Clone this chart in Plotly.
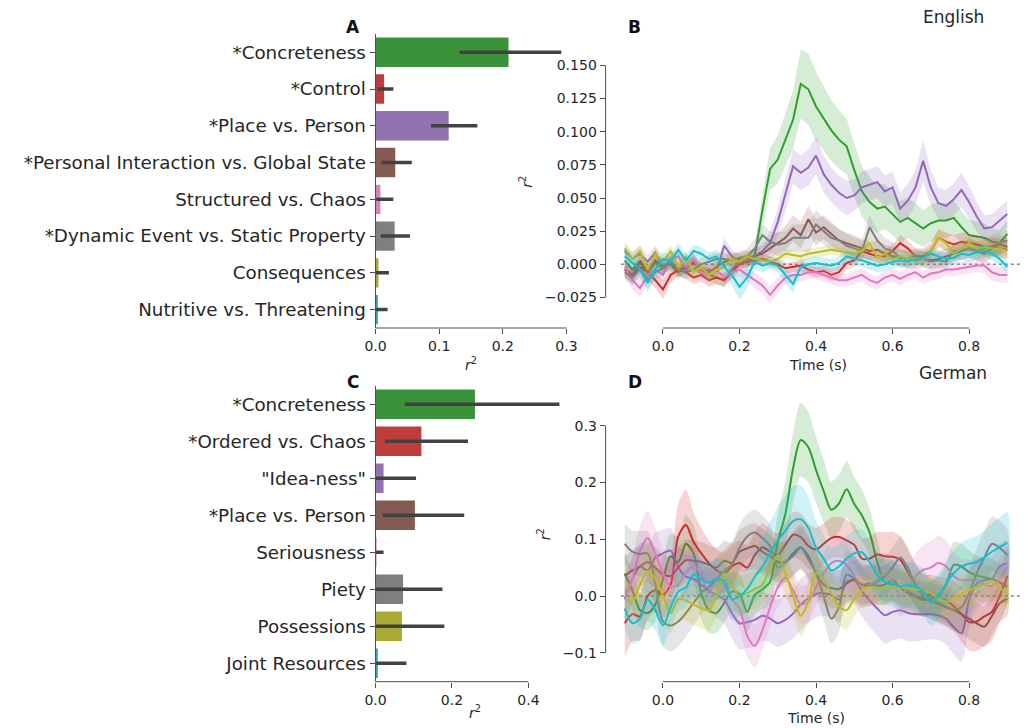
import numpy as np
import plotly.graph_objects as go

W, H = 1028, 728

# ---------------- Panel A (English) bar data ----------------
cats_A = ["*Concreteness", "*Control", "*Place vs. Person",
          "*Personal Interaction vs. Global State", "Structured vs. Chaos",
          "*Dynamic Event vs. Static Property", "Consequences",
          "Nutritive vs. Threatening"]
val_A = [0.209, 0.0135, 0.115, 0.031, 0.0077, 0.030, 0.0046, 0.0037]
lo_A = [0.132, 0.003, 0.087, 0.009, 0.001, 0.008, 0.000, 0.000]
hi_A = [0.292, 0.028, 0.160, 0.057, 0.028, 0.054, 0.021, 0.019]

# ---------------- Panel C (German) bar data ----------------
cats_C = ["*Concreteness", "*Ordered vs. Chaos", "\"Idea-ness\"",
          "*Place vs. Person", "Seriousness", "Piety", "Possessions",
          "Joint Resources"]
val_C = [0.260, 0.120, 0.021, 0.103, 0.001, 0.072, 0.069, 0.006]
lo_C = [0.0765, 0.025, 0.000, 0.019, 0.000, 0.000, 0.000, 0.000]
hi_C = [0.481, 0.242, 0.106, 0.232, 0.021, 0.175, 0.180, 0.081]

bar_colors = ["#3a923a", "#c03d3e", "#9372b2", "#845b53", "#d684bd",
              "#7f7f7f", "#a9aa35", "#2eabb8"]
line_colors = ["#2ca02c", "#d62728", "#9467bd", "#8c564b", "#e377c2",
               "#7f7f7f", "#bcbd22", "#17becf"]

# ---------------- time axis ----------------
time_s = [round(-0.10 + 0.02 * i, 2) for i in range(51)]

# ---------------- Panel B (English) time courses ----------------
green_B = [0.003, -0.004, 0.002, -0.006, 0.001, -0.003, 0.000, -0.006, -0.002, 0.003, -0.005, -0.008, -0.010, -0.012, -0.004, 0.002, 0.002,
           0.007, 0.041, 0.072, 0.079, 0.094, 0.109, 0.136, 0.132, 0.119, 0.110, 0.101, 0.094, 0.089, 0.071, 0.055, 0.047, 0.042, 0.0435, 0.038, 0.032, 0.035, 0.031, 0.027, 0.031, 0.033, 0.033, 0.035, 0.028, 0.022, 0.021, 0.020, 0.017, 0.016, 0.023]
red_B = [-0.004, -0.008, -0.002, -0.006, -0.012, -0.019, -0.008, -0.004, -0.006, -0.010, -0.008, -0.012, -0.010, -0.012, -0.006, 0.000, 0.002,
         0.003, 0.004, 0.002, 0.000, -0.003, -0.002, -0.001, -0.004, -0.006, -0.005, -0.008, -0.006, 0.001, 0.003, 0.010, 0.008, 0.006, 0.006, 0.010, 0.016, 0.012, 0.006, 0.006, 0.010, 0.020, 0.017, 0.015, 0.017, 0.016, 0.015, 0.013, 0.013, 0.012, 0.011]
purple_B = [0.010, 0.004, 0.008, 0.002, 0.009, -0.002, 0.003, 0.006, -0.004, 0.002, -0.006, -0.004, -0.005, 0.014, 0.006, 0.002, 0.003,
            0.006, 0.010, 0.016, 0.032, 0.052, 0.074, 0.069, 0.073, 0.082, 0.068, 0.060, 0.054, 0.050, 0.052, 0.058, 0.060, 0.062, 0.055, 0.058, 0.042, 0.048, 0.058, 0.078, 0.058, 0.046, 0.044, 0.049, 0.056, 0.047, 0.036, 0.027, 0.028, 0.033, 0.038]
brown_B = [-0.004, -0.008, 0.002, -0.006, 0.003, -0.002, 0.002, -0.004, -0.002, 0.001, -0.003, -0.006, -0.002, 0.002, 0.003, 0.004, 0.005,
           0.006, 0.008, 0.012, 0.016, 0.020, 0.027, 0.022, 0.034, 0.024, 0.028, 0.023, 0.018, 0.016, 0.014, 0.012, 0.010, 0.011, 0.008, 0.006, 0.005, 0.004, 0.006, 0.004, 0.003, 0.004, 0.006, 0.008, 0.010, 0.012, 0.010, 0.008, 0.012, 0.015, 0.013]
pink_B = [-0.002, -0.012, -0.018, -0.008, -0.004, -0.008, 0.004, 0.006, -0.002, 0.004, -0.006, -0.008, -0.004, -0.010, -0.006, -0.004, -0.008,
          -0.012, -0.016, -0.023, -0.016, -0.010, -0.008, -0.008, -0.006, -0.006, -0.008, -0.010, -0.012, -0.012, -0.010, -0.008, -0.012, -0.014, -0.010, -0.008, -0.011, -0.008, -0.006, -0.010, -0.007, -0.006, -0.004, -0.004, -0.003, -0.002, -0.001, -0.001, -0.006, -0.008, -0.008]
gray_B = [-0.006, -0.010, -0.004, -0.012, -0.006, -0.003, 0.002, -0.004, -0.006, -0.004, 0.000, 0.002, 0.004, 0.004, 0.003, 0.005, 0.006,
          0.012, 0.022, 0.017, 0.015, 0.016, 0.020, 0.020, 0.020, 0.030, 0.025, 0.020, 0.018, 0.014, 0.012, 0.010, 0.028, 0.018, 0.012, 0.010, 0.005, 0.004, 0.003, 0.004, 0.002, 0.003, 0.002, 0.010, 0.010, 0.012, 0.010, 0.012, 0.014, 0.016, 0.018]
olive_B = [0.012, 0.004, 0.010, -0.004, 0.008, 0.002, 0.010, -0.002, 0.006, -0.006, -0.002, -0.008, -0.004, -0.002, 0.004, 0.002, 0.006,
           0.004, 0.003, 0.002, 0.004, 0.008, 0.007, 0.006, 0.008, 0.009, 0.010, 0.011, 0.010, 0.009, 0.008, 0.010, 0.016, 0.005, 0.008, 0.004, 0.006, 0.004, 0.005, 0.004, 0.010, 0.020, 0.016, 0.008, 0.012, 0.016, 0.012, 0.013, 0.012, 0.012, 0.010]
cyan_B = [0.006, 0.001, -0.004, -0.014, -0.004, 0.004, 0.002, 0.011, 0.003, 0.010, 0.008, 0.004, 0.006, -0.002, -0.008, -0.017, -0.010,
          0.002, -0.001, 0.001, -0.001, -0.008, -0.015, -0.002, 0.000, 0.001, 0.000, -0.001, 0.001, 0.006, 0.004, 0.003, 0.001, -0.001, 0.000, 0.002, 0.003, 0.002, 0.004, 0.005, 0.008, 0.006, 0.004, 0.005, 0.008, 0.007, 0.009, 0.010, 0.008, 0.004, -0.002]

# CI half-widths, panel B
green_B_ci = [0.006, 0.005, 0.006, 0.005, 0.005, 0.004, 0.005, 0.005, 0.004, 0.005, 0.004, 0.005, 0.005, 0.005, 0.005, 0.004, 0.005,
              0.006, 0.012, 0.016, 0.018, 0.020, 0.022, 0.026, 0.027, 0.026, 0.024, 0.023, 0.022, 0.021, 0.020, 0.019, 0.019, 0.018, 0.017, 0.016, 0.016, 0.015, 0.015, 0.014, 0.014, 0.014, 0.013, 0.013, 0.012, 0.012, 0.011, 0.011, 0.010, 0.010, 0.010]
red_B_ci = [0.006, 0.006, 0.006, 0.006, 0.006, 0.007, 0.006, 0.005, 0.005, 0.005, 0.005, 0.005, 0.005, 0.005, 0.005, 0.005, 0.004,
            0.004, 0.004, 0.004, 0.004, 0.004, 0.004, 0.004, 0.004, 0.004, 0.004, 0.005, 0.005, 0.005, 0.005, 0.005, 0.005, 0.005, 0.005, 0.005, 0.006, 0.006, 0.006, 0.006, 0.006, 0.007, 0.007, 0.007, 0.007, 0.007, 0.007, 0.007, 0.007, 0.007, 0.007]
purple_B_ci = [0.005, 0.005, 0.006, 0.005, 0.005, 0.005, 0.004, 0.005, 0.005, 0.005, 0.004, 0.005, 0.005, 0.006, 0.005, 0.005, 0.005,
               0.005, 0.006, 0.008, 0.010, 0.012, 0.013, 0.013, 0.014, 0.014, 0.014, 0.013, 0.013, 0.013, 0.012, 0.012, 0.012, 0.012, 0.012, 0.012, 0.012, 0.013, 0.013, 0.016, 0.013, 0.012, 0.012, 0.012, 0.013, 0.012, 0.011, 0.010, 0.010, 0.010, 0.010]
brown_B_ci = [0.006, 0.006, 0.005, 0.006, 0.005, 0.005, 0.005, 0.005, 0.005, 0.005, 0.005, 0.005, 0.005, 0.005, 0.005, 0.005, 0.005,
              0.006, 0.006, 0.007, 0.008, 0.009, 0.010, 0.010, 0.010, 0.010, 0.009, 0.009, 0.008, 0.008, 0.008, 0.007, 0.007, 0.007, 0.007, 0.007, 0.006, 0.006, 0.006, 0.006, 0.006, 0.006, 0.006, 0.006, 0.006, 0.007, 0.007, 0.007, 0.007, 0.007, 0.007]
pink_B_ci = [0.006, 0.007, 0.007, 0.006, 0.006, 0.006, 0.005, 0.005, 0.005, 0.005, 0.005, 0.005, 0.005, 0.005, 0.005, 0.005, 0.005,
             0.006, 0.006, 0.007, 0.006, 0.005, 0.005, 0.005, 0.005, 0.005, 0.005, 0.005, 0.005, 0.005, 0.005, 0.005, 0.005, 0.005, 0.005, 0.005, 0.005, 0.005, 0.005, 0.005, 0.005, 0.005, 0.005, 0.005, 0.005, 0.005, 0.005, 0.006, 0.006, 0.006, 0.006]
gray_B_ci = [0.006, 0.006, 0.006, 0.006, 0.006, 0.005, 0.005, 0.005, 0.005, 0.005, 0.005, 0.005, 0.005, 0.005, 0.005, 0.005, 0.006,
             0.007, 0.008, 0.008, 0.009, 0.009, 0.010, 0.010, 0.011, 0.011, 0.010, 0.010, 0.009, 0.009, 0.008, 0.008, 0.009, 0.008, 0.008, 0.007, 0.007, 0.007, 0.006, 0.006, 0.006, 0.006, 0.006, 0.006, 0.007, 0.007, 0.007, 0.007, 0.008, 0.008, 0.008]
olive_B_ci = [0.005, 0.005, 0.005, 0.005, 0.005, 0.005, 0.005, 0.005, 0.005, 0.005, 0.005, 0.005, 0.005, 0.005, 0.004, 0.004, 0.004,
              0.004, 0.004, 0.004, 0.004, 0.004, 0.004, 0.004, 0.004, 0.004, 0.004, 0.004, 0.004, 0.004, 0.005, 0.005, 0.005, 0.005, 0.005, 0.005, 0.005, 0.005, 0.005, 0.005, 0.005, 0.006, 0.006, 0.006, 0.006, 0.006, 0.006, 0.006, 0.006, 0.006, 0.006]
cyan_B_ci = [0.006, 0.006, 0.006, 0.007, 0.006, 0.005, 0.005, 0.005, 0.005, 0.005, 0.005, 0.005, 0.005, 0.006, 0.008, 0.010, 0.008,
             0.006, 0.005, 0.005, 0.005, 0.006, 0.007, 0.005, 0.005, 0.005, 0.005, 0.005, 0.005, 0.005, 0.005, 0.005, 0.005, 0.005, 0.005, 0.005, 0.005, 0.005, 0.005, 0.005, 0.005, 0.005, 0.005, 0.005, 0.005, 0.005, 0.005, 0.005, 0.005, 0.005, 0.005]

# ---------------- Panel D (German) time courses ----------------
green_D = [0.040, 0.010, -0.025, -0.030, -0.015, 0.030, 0.070, 0.060, 0.092, 0.075, 0.005, -0.025, -0.030, -0.012, 0.008, 0.004, -0.028,
           0.002, 0.012, 0.025, 0.095, 0.145, 0.225, 0.275, 0.262, 0.222, 0.185, 0.152, 0.163, 0.188, 0.162, 0.142, 0.112, 0.060, 0.024, 0.020, 0.014, 0.008, 0.000, -0.007, -0.004, 0.002, 0.020, 0.055, 0.052, 0.042, 0.036, 0.033, 0.030, 0.024, 0.016]
red_D = [-0.048, -0.032, -0.036, 0.000, 0.010, 0.002, 0.020, 0.105, 0.125, 0.095, 0.075, 0.058, 0.045, 0.040, 0.052, 0.058, 0.050,
         0.072, 0.086, 0.078, 0.072, 0.090, 0.108, 0.104, 0.088, 0.082, 0.092, 0.102, 0.104, 0.098, 0.090, 0.066, 0.066, 0.073, 0.070, 0.069, 0.064, 0.042, 0.020, 0.002, 0.002, -0.004, -0.008, -0.018, -0.032, -0.046, -0.045, -0.036, -0.028, 0.000, 0.035]
purple_D = [-0.005, 0.030, 0.052, 0.045, 0.068, 0.075, 0.080, 0.050, 0.034, 0.030, 0.020, 0.010, 0.002, -0.006, -0.030, -0.048, -0.046,
            -0.042, -0.035, -0.040, -0.048, -0.042, -0.031, -0.015, -0.004, 0.004, 0.005, 0.002, -0.006, 0.025, 0.028, 0.008, -0.008, -0.022, -0.034, -0.028, -0.025, -0.030, -0.032, -0.032, -0.032, -0.034, -0.040, -0.055, -0.066, -0.008, 0.022, 0.028, 0.030, 0.052, 0.058]
brown_D = [0.035, 0.045, 0.052, 0.060, 0.050, 0.038, 0.035, 0.050, 0.063, 0.062, 0.060, 0.055, 0.050, 0.062, 0.058, 0.078, 0.084,
           0.088, 0.078, 0.070, 0.060, 0.060, 0.075, 0.086, 0.070, 0.040, 0.020, 0.014, 0.012, 0.022, 0.028, 0.020, 0.022, 0.018, 0.020, 0.028, 0.015, 0.005, 0.000, -0.004, -0.008, -0.014, -0.020, -0.025, -0.032, -0.040, -0.048, -0.054, -0.035, -0.013, -0.005]
pink_D = [-0.005, 0.030, 0.080, 0.102, 0.075, 0.040, 0.016, 0.020, 0.040, 0.055, 0.035, 0.005, 0.030, 0.018, -0.005, -0.022, -0.070,
          -0.088, -0.060, -0.020, 0.015, 0.032, 0.010, -0.015, -0.010, 0.016, 0.040, 0.058, 0.062, 0.055, 0.035, 0.015, 0.020, 0.030, 0.040, 0.025, 0.000, 0.015, 0.035, 0.046, 0.050, 0.058, 0.052, 0.035, 0.028, 0.028, 0.028, 0.020, 0.018, 0.030, 0.052]
gray_D = [0.092, 0.078, 0.074, 0.075, 0.020, -0.045, -0.052, -0.045, -0.030, -0.012, 0.006, 0.016, 0.030, 0.045, 0.055, 0.085, 0.105,
          0.112, 0.102, 0.088, 0.050, 0.060, 0.070, 0.085, 0.065, 0.040, 0.000, -0.040, -0.020, 0.038, 0.030, 0.020, 0.018, 0.025, 0.034, 0.050, 0.068, 0.050, 0.020, 0.004, -0.005, -0.012, -0.018, -0.024, -0.020, 0.005, 0.040, 0.068, 0.092, 0.085, 0.072]
olive_D = [-0.005, -0.010, 0.020, 0.044, 0.030, 0.000, -0.030, -0.005, -0.008, -0.015, -0.022, -0.025, 0.000, 0.040, 0.020, 0.000, 0.005,
           0.012, 0.020, 0.050, 0.072, 0.040, 0.000, -0.035, -0.010, 0.040, 0.030, 0.005, -0.018, -0.025, -0.005, 0.010, 0.016, 0.014, 0.014, 0.016, 0.014, 0.014, 0.011, 0.010, 0.005, -0.004, -0.010, -0.006, 0.004, 0.010, 0.016, 0.020, 0.024, 0.015, 0.005]
cyan_D = [-0.022, -0.048, -0.040, -0.006, -0.025, -0.052, -0.020, 0.008, 0.015, 0.038, 0.030, 0.024, 0.030, 0.026, -0.006, 0.000, 0.012,
          0.034, 0.052, 0.076, 0.098, 0.115, 0.132, 0.135, 0.120, 0.085, 0.066, 0.045, 0.052, 0.066, 0.075, 0.077, 0.060, 0.038, 0.025, 0.022, 0.016, 0.020, 0.016, 0.008, -0.012, 0.000, 0.022, 0.040, 0.052, 0.057, 0.060, 0.068, 0.078, 0.086, 0.094]

# CI half-widths, panel D
green_D_ci = [0.035, 0.035, 0.030, 0.030, 0.030, 0.035, 0.040, 0.045, 0.050, 0.050, 0.045, 0.040, 0.035, 0.035, 0.035, 0.035, 0.035,
              0.035, 0.035, 0.040, 0.050, 0.058, 0.062, 0.065, 0.062, 0.058, 0.055, 0.050, 0.050, 0.050, 0.048, 0.045, 0.042, 0.040, 0.035, 0.030, 0.030, 0.030, 0.030, 0.030, 0.030, 0.032, 0.035, 0.040, 0.040, 0.038, 0.035, 0.035, 0.035, 0.032, 0.030]
red_D_ci = [0.060, 0.048, 0.042, 0.040, 0.038, 0.040, 0.048, 0.058, 0.062, 0.052, 0.045, 0.040, 0.038, 0.036, 0.038, 0.040, 0.040,
            0.040, 0.042, 0.040, 0.038, 0.038, 0.040, 0.042, 0.040, 0.038, 0.036, 0.036, 0.036, 0.036, 0.036, 0.036, 0.038, 0.040, 0.042, 0.044, 0.042, 0.040, 0.038, 0.036, 0.036, 0.038, 0.040, 0.044, 0.048, 0.050, 0.052, 0.052, 0.050, 0.048, 0.046]
purple_D_ci = [0.040, 0.040, 0.042, 0.044, 0.044, 0.042, 0.040, 0.040, 0.040, 0.040, 0.040, 0.040, 0.040, 0.042, 0.044, 0.046, 0.046,
               0.046, 0.044, 0.042, 0.042, 0.042, 0.044, 0.046, 0.044, 0.042, 0.040, 0.040, 0.040, 0.040, 0.042, 0.044, 0.046, 0.048, 0.050, 0.050, 0.050, 0.050, 0.048, 0.046, 0.044, 0.044, 0.046, 0.048, 0.050, 0.048, 0.044, 0.040, 0.040, 0.040, 0.040]
brown_D_ci = [0.035, 0.035, 0.036, 0.036, 0.036, 0.035, 0.035, 0.036, 0.036, 0.036, 0.035, 0.035, 0.035, 0.035, 0.036, 0.038, 0.040,
              0.040, 0.040, 0.038, 0.036, 0.036, 0.038, 0.040, 0.038, 0.036, 0.034, 0.034, 0.034, 0.034, 0.034, 0.034, 0.034, 0.034, 0.034, 0.036, 0.036, 0.034, 0.032, 0.032, 0.032, 0.032, 0.032, 0.034, 0.034, 0.036, 0.036, 0.036, 0.034, 0.032, 0.030]
pink_D_ci = [0.040, 0.040, 0.045, 0.048, 0.045, 0.040, 0.038, 0.036, 0.036, 0.036, 0.036, 0.036, 0.036, 0.036, 0.036, 0.036, 0.038,
             0.038, 0.036, 0.034, 0.034, 0.034, 0.034, 0.034, 0.034, 0.034, 0.036, 0.038, 0.040, 0.040, 0.038, 0.036, 0.036, 0.036, 0.036, 0.036, 0.036, 0.038, 0.040, 0.044, 0.046, 0.048, 0.046, 0.042, 0.038, 0.036, 0.036, 0.036, 0.036, 0.036, 0.036]
gray_D_ci = [0.035, 0.038, 0.040, 0.040, 0.042, 0.045, 0.045, 0.044, 0.042, 0.040, 0.038, 0.038, 0.038, 0.038, 0.040, 0.040, 0.040,
             0.040, 0.040, 0.038, 0.036, 0.036, 0.036, 0.036, 0.038, 0.040, 0.042, 0.044, 0.044, 0.042, 0.040, 0.038, 0.036, 0.036, 0.036, 0.036, 0.036, 0.036, 0.036, 0.036, 0.036, 0.036, 0.036, 0.038, 0.040, 0.042, 0.044, 0.046, 0.048, 0.048, 0.046]
olive_D_ci = [0.035, 0.035, 0.036, 0.038, 0.038, 0.036, 0.036, 0.036, 0.036, 0.036, 0.036, 0.036, 0.036, 0.038, 0.038, 0.036, 0.034,
              0.034, 0.034, 0.036, 0.038, 0.038, 0.036, 0.036, 0.036, 0.036, 0.036, 0.034, 0.034, 0.034, 0.032, 0.030, 0.030, 0.030, 0.030, 0.030, 0.030, 0.030, 0.030, 0.030, 0.030, 0.030, 0.030, 0.030, 0.030, 0.030, 0.030, 0.030, 0.030, 0.030, 0.030]
cyan_D_ci = [0.035, 0.036, 0.038, 0.038, 0.036, 0.035, 0.035, 0.035, 0.035, 0.036, 0.036, 0.036, 0.036, 0.036, 0.036, 0.036, 0.040,
             0.045, 0.050, 0.055, 0.060, 0.062, 0.062, 0.060, 0.055, 0.048, 0.042, 0.040, 0.040, 0.040, 0.040, 0.040, 0.040, 0.040, 0.040, 0.040, 0.040, 0.040, 0.040, 0.040, 0.040, 0.040, 0.040, 0.040, 0.042, 0.044, 0.046, 0.048, 0.050, 0.052, 0.054]

series_B = [(green_B, green_B_ci), (red_B, red_B_ci), (purple_B, purple_B_ci), (brown_B, brown_B_ci),
            (pink_B, pink_B_ci), (gray_B, gray_B_ci), (olive_B, olive_B_ci), (cyan_B, cyan_B_ci)]
series_D = [(green_D, green_D_ci), (red_D, red_D_ci), (purple_D, purple_D_ci), (brown_D, brown_D_ci),
            (pink_D, pink_D_ci), (gray_D, gray_D_ci), (olive_D, olive_D_ci), (cyan_D, cyan_D_ci)]
for s, c in series_B + series_D:
    assert len(s) == len(time_s) and len(c) == len(time_s), (len(s), len(c))

# tick labels
ticks_A = [0.0, 0.1, 0.2, 0.3]
ticklabels_A = ["0.0", "0.1", "0.2", "0.3"]
ticks_C = [0.0, 0.2, 0.4]
ticklabels_C = ["0.0", "0.2", "0.4"]
ticks_time = [0.0, 0.2, 0.4, 0.6, 0.8]
ticklabels_time = ["0.0", "0.2", "0.4", "0.6", "0.8"]
ticks_B_y = [-0.025, 0.0, 0.025, 0.05, 0.075, 0.1, 0.125, 0.15]
ticklabels_B_y = ["\u22120.025", "0.000", "0.025", "0.050", "0.075", "0.100", "0.125", "0.150"]
ticks_D_y = [-0.1, 0.0, 0.1, 0.2, 0.3]
ticklabels_D_y = ["\u22120.1", "0.0", "0.1", "0.2", "0.3"]

FONT = "DejaVu Sans"
TXT = "#262626"
SPINE = "#4d4d4d"


def rgba(hexc, a):
    h = hexc.lstrip("#")
    return "rgba(%d,%d,%d,%.2f)" % (int(h[0:2], 16), int(h[2:4], 16), int(h[4:6], 16), a)


fig = go.Figure()


def add_bars(cats, vals, lo, hi, xa, ya):
    v = np.array(vals)
    fig.add_trace(go.Bar(
        x=vals, y=cats, orientation="h", width=0.8,
        marker=dict(color=bar_colors, line=dict(width=0)),
        error_x=dict(type="data", symmetric=False,
                     array=list(np.array(hi) - v), arrayminus=list(v - np.array(lo)),
                     color="#424242", thickness=3.5, width=0),
        xaxis=xa, yaxis=ya, showlegend=False, hoverinfo="skip"))


add_bars(cats_A, val_A, lo_A, hi_A, "x", "y")
add_bars(cats_C, val_C, lo_C, hi_C, "x3", "y3")


def add_lines(series, xa, ya, shape):
    t = np.array(time_s)
    for (m, c), col in zip(series, line_colors):
        m = np.array(m)
        c = np.array(c)
        up = m + c
        dn = m - c
        fig.add_trace(go.Scatter(
            x=list(t) + list(t[::-1]), y=list(up) + list(dn[::-1]),
            fill="toself", fillcolor=rgba(col, 0.2), line=dict(width=0, shape=shape, smoothing=0.8),
            mode="lines", xaxis=xa, yaxis=ya, showlegend=False, hoverinfo="skip"))
        fig.add_trace(go.Scatter(
            x=time_s, y=list(m), mode="lines",
            line=dict(color=col, width=2, shape=shape, smoothing=0.8),
            xaxis=xa, yaxis=ya, showlegend=False, hoverinfo="skip"))


add_lines(series_B, "x2", "y2", "linear")
add_lines(series_D, "x4", "y4", "spline")


def px_x(p):
    return p / W


def py(p):
    return 1 - p / H


common_ax = dict(showgrid=False, zeroline=False, showline=False, ticks="outside",
                 ticklen=5, tickwidth=1, tickcolor=SPINE,
                 tickfont=dict(family=FONT, size=14, color=TXT))
cat_font = dict(family=FONT, size=18.3, color=TXT)

fig.update_layout(
    width=W, height=H, margin=dict(l=0, r=0, t=0, b=0),
    paper_bgcolor="white", plot_bgcolor="white",
    font=dict(family=FONT, color=TXT),
    xaxis=dict(domain=[px_x(370.3), px_x(570)], range=[0, 0.309], anchor="y",
               tickmode="array", tickvals=ticks_A, ticktext=ticklabels_A, **common_ax),
    yaxis=dict(domain=[py(328), py(33.9)], anchor="x", type="category",
               categoryorder="array", categoryarray=cats_A, range=[7.5, -0.5],
               **{**common_ax, "tickfont": cat_font}),
    xaxis2=dict(domain=[px_x(604), 1.0], range=[-0.15, 0.941], anchor="y2",
                tickmode="array", tickvals=ticks_time, ticktext=ticklabels_time, **common_ax),
    yaxis2=dict(domain=[py(328), py(34)], range=[-0.04805, 0.1737], anchor="x2",
                tickmode="array", tickvals=ticks_B_y, ticktext=ticklabels_B_y, **common_ax),
    xaxis3=dict(domain=[px_x(370.3), px_x(573)], range=[0, 0.522], anchor="y3",
                tickmode="array", tickvals=ticks_C, ticktext=ticklabels_C, **common_ax),
    yaxis3=dict(domain=[py(681.7), py(385.8)], anchor="x3", type="category",
                categoryorder="array", categoryarray=cats_C, range=[7.5, -0.5],
                **{**common_ax, "tickfont": cat_font}),
    xaxis4=dict(domain=[px_x(604), 1.0], range=[-0.15, 0.941], anchor="y4",
                tickmode="array", tickvals=ticks_time, ticktext=ticklabels_time, **common_ax),
    yaxis4=dict(domain=[py(681.7), py(388)], range=[-0.151, 0.3665], anchor="x4",
                tickmode="array", tickvals=ticks_D_y, ticktext=ticklabels_D_y, **common_ax),
)

shapes = []
ln = dict(color=SPINE, width=1)
# spines A
shapes.append(dict(type="line", xref="x", yref="y domain", x0=0, x1=0.3, y0=0, y1=0, line=ln))
shapes.append(dict(type="line", xref="x domain", yref="y domain", x0=0, x1=0, y0=0, y1=1, line=ln))
# spines C
shapes.append(dict(type="line", xref="x3", yref="y3 domain", x0=0, x1=0.4, y0=0, y1=0, line=ln))
shapes.append(dict(type="line", xref="x3 domain", yref="y3 domain", x0=0, x1=0, y0=0, y1=1, line=ln))
# spines B
shapes.append(dict(type="line", xref="x2", yref="y2 domain", x0=0, x1=0.8, y0=0, y1=0, line=ln))
shapes.append(dict(type="line", xref="x2 domain", yref="y2", x0=0, x1=0, y0=-0.025, y1=0.15, line=ln))
# spines D
shapes.append(dict(type="line", xref="x4", yref="y4 domain", x0=0, x1=0.8, y0=0, y1=0, line=ln))
shapes.append(dict(type="line", xref="x4 domain", yref="y4", x0=0, x1=0, y0=-0.1, y1=0.3, line=ln))
# zero reference lines
for xa, ya in (("x2", "y2"), ("x4", "y4")):
    shapes.append(dict(type="line", xref=xa, yref=ya, x0=-0.11, x1=0.941, y0=0, y1=0,
                       line=dict(color="#8a8a8a", width=1.6, dash="dot"), layer="below"))
fig.update_layout(shapes=shapes)

ann = []


def txt(x, y, s, size=14, bold=False, angle=0):
    ann.append(dict(x=px_x(x), y=py(y), xref="paper", yref="paper", text=("<b>%s</b>" % s) if bold else s,
                    showarrow=False, xanchor="center", yanchor="middle", textangle=angle,
                    font=dict(family=FONT, size=size, color="#111111" if bold else TXT)))


txt(347, 27, "A", 17, True)
txt(633, 27, "B", 17, True)
txt(347, 382, "C", 17, True)
txt(634, 382, "D", 17, True)
txt(957, 17, "English", 17)
txt(957, 373, "German", 17)
txt(467, 364, "<i>r</i><sup>2</sup>", 14)
txt(471.7, 712, "<i>r</i><sup>2</sup>", 14)
txt(820, 365, "Time (s)", 14)
txt(818, 718, "Time (s)", 14)
txt(523, 182, "<i>r</i><sup>2</sup>", 14, angle=-90)
txt(541.7, 534, "<i>r</i><sup>2</sup>", 14, angle=-90)
fig.update_layout(annotations=ann)

fig.write_html("out.html", config={"displayModeBar": False},
               post_script="document.body.style.margin='0px';document.body.style.overflow='hidden';")
